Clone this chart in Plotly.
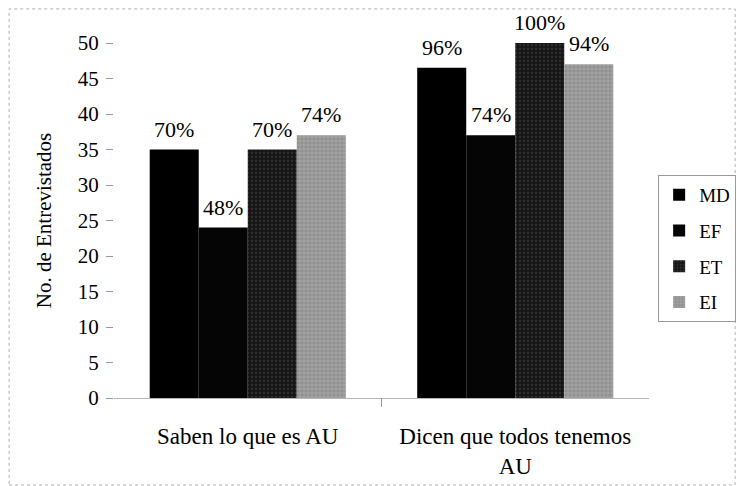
import plotly.graph_objects as go

categories = ["Saben lo que es AU", "Dicen que todos tenemos<br>AU"]
series_names = ["MD", "EF", "ET", "EI"]
md_values = [35, 46.5]
ef_values = [24, 37]
et_values = [35, 50]
ei_values = [37, 47]
md_labels = ["70%", "96%"]
ef_labels = ["48%", "74%"]
et_labels = ["70%", "100%"]
ei_labels = ["74%", "94%"]
y_ticks = [0, 5, 10, 15, 20, 25, 30, 35, 40, 45, 50]

FONT = "Liberation Serif, Times New Roman, serif"
BARGAP = 0.267

values = [md_values, ef_values, et_values, ei_values]
labels = [md_labels, ef_labels, et_labels, ei_labels]
colors = ["#000000", "#050505", "#1c1c1c", "#a3a3a3"]
patterns = [
    dict(shape=""),
    dict(shape=""),
    dict(shape=".", fgcolor="#4a4a4a", bgcolor="#161616", size=4, solidity=0.25),
    dict(shape="+", fgcolor="#c8c8c8", bgcolor="#8f8f8f", size=4, solidity=0.35),
]

fig = go.Figure()
for name, vals, col, pat in zip(series_names, values, colors, patterns):
    fig.add_trace(go.Bar(
        name=name, x=categories, y=vals,
        marker=dict(color=col, line=dict(width=0), pattern=pat),
        legendgroup=name,
    ))

# value labels placed above each bar using the category axis index scale
n = len(series_names)
slot = (1 - BARGAP) / n
annotations = []
for j, (vals, labs) in enumerate(zip(values, labels)):
    for i, (v, lab) in enumerate(zip(vals, labs)):
        annotations.append(dict(
            x=i + (j - (n - 1) / 2) * slot, y=v, xref="x", yref="y",
            text=lab, showarrow=False, yanchor="bottom", xanchor="center",
            yshift=6, font=dict(family=FONT, size=22, color="#000"),
        ))

fig.update_layout(
    width=737, height=486,
    margin=dict(l=114, r=88, t=43, b=88, autoexpand=False),
    paper_bgcolor="white", plot_bgcolor="white",
    barmode="group", bargap=BARGAP, bargroupgap=0,
    font=dict(family=FONT, color="#000"),
    showlegend=True,
    legend=dict(
        xref="container", yref="container",
        x=0.893, y=0.64, xanchor="left", yanchor="top",
        font=dict(family=FONT, size=19, color="#000"),
        bordercolor="#9a9a9a", borderwidth=1,
        tracegroupgap=8, itemsizing="constant", itemwidth=30,
    ),
    annotations=annotations,
    shapes=[
        dict(type="rect", xref="paper", yref="paper",
             x0=-0.196, x1=1.161, y0=-0.245, y1=1.096,
             line=dict(color="#b0b0b0", width=1, dash="dot")),
        dict(type="line", xref="x", yref="paper", x0=0.5, x1=0.5, y0=0, y1=-0.025,
             line=dict(color="#9a9a9a", width=1)),
    ],
)

fig.update_xaxes(
    type="category", showline=True, linecolor="#b5b5b5", linewidth=1,
    ticks="", tickfont=dict(family=FONT, size=23, color="#000"),
    ticklabelstandoff=17, showgrid=False, automargin=False,
)
fig.update_yaxes(
    range=[0, 50], tickvals=y_ticks, showgrid=False, zeroline=False,
    showline=False, ticks="outside", ticklen=7, tickcolor="#9a9a9a",
    tickfont=dict(family=FONT, size=21, color="#000"),
    ticklabelstandoff=3, automargin=False,
    title=dict(text="No. de Entrevistados", font=dict(family=FONT, size=21, color="#000"), standoff=20),
)

fig.write_html("out.html", config={"displayModeBar": False},
               post_script="document.body.style.margin='0';document.body.style.padding='0';")
